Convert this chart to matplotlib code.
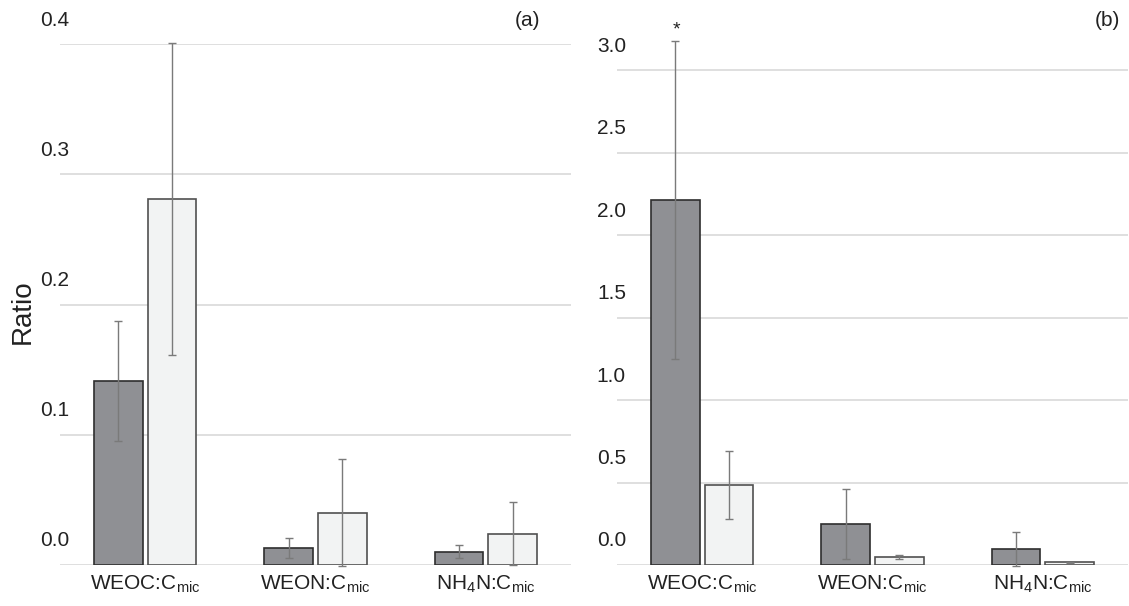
import numpy as np
import matplotlib.pyplot as plt

plt.rcParams['font.family'] = ['Liberation Sans', 'DejaVu Sans']
plt.rcParams['mathtext.fontset'] = 'custom'
plt.rcParams['mathtext.rm'] = 'Liberation Sans'
plt.rcParams['mathtext.it'] = 'Liberation Sans'

# ---------------------------------------------------------
# data
# ---------------------------------------------------------
categories = [r'WEOC:C$_{\mathrm{mic}}$', r'WEON:C$_{\mathrm{mic}}$', r'NH$_4$N:C$_{\mathrm{mic}}$']

# panel (a)
a_dark = [0.141, 0.013, 0.010]
a_dark_err = [0.046, 0.008, 0.005]
a_light = [0.281, 0.040, 0.024]
a_light_err = [0.120, 0.041, 0.024]
a_ticks = [0.0, 0.1, 0.2, 0.3, 0.4]

# panel (b)
b_dark = [2.212, 0.248, 0.097]
b_dark_err = [0.964, 0.210, 0.103]
b_light = [0.485, 0.048, 0.018]
b_light_err = [0.208, 0.010, 0.003]
b_ticks = [0.0, 0.5, 1.0, 1.5, 2.0, 2.5, 3.0]

dark_col = '#8f9094'
light_col = '#f2f3f3'
grid_col = '#d9d9d9'
err_col = '#7a7a7a'

W, H = 1129, 606
fig = plt.figure(figsize=(W / 100, H / 100), dpi=100)

bottom_px = 41
height_px = 521


def draw_panel(left_px, right_px, dark, dark_err, light, light_err, ticks, top_tick, top_y, letter, letter_x):
    ax = fig.add_axes([left_px / W, bottom_px / H, (right_px - left_px) / W, height_px / H])
    # highest gridline sits at top_y px from the image top
    ymax = top_tick * height_px / (565 - top_y)
    x = np.arange(len(categories))
    bw = 0.285
    off = bw / 2 + 0.015
    ax.bar(x - off, dark, bw, color=dark_col, edgecolor='#2e2e2e', linewidth=1.2, zorder=3)
    ax.bar(x + off, light, bw, color=light_col, edgecolor='#505050', linewidth=1.2, zorder=3)
    ax.errorbar(x - off, dark, yerr=dark_err, fmt='none', ecolor=err_col, elinewidth=1,
                capsize=3, capthick=1, zorder=4, clip_on=False)
    ax.errorbar(x + off, light, yerr=light_err, fmt='none', ecolor=err_col, elinewidth=1,
                capsize=3, capthick=1, zorder=4, clip_on=False)
    ax.set_xlim(-0.5, len(categories) - 0.5)
    ax.set_ylim(0, ymax)
    for t in ticks:
        ax.axhline(t, color=grid_col, linewidth=1.2, zorder=1)
        ax.annotate(f'{t:.1f}', xy=(0, t), xycoords=ax.get_yaxis_transform(),
                    xytext=(9, 24), textcoords='offset pixels', ha='right', va='center',
                    fontsize=15, color='#222222', annotation_clip=False)
    ax.set_yticks([])
    ax.set_xticks(x)
    ax.set_xticklabels(categories, fontsize=15, color='#222222')
    ax.tick_params(axis='x', length=0, pad=6)
    for s in ax.spines.values():
        s.set_visible(False)
    ax.patch.set_alpha(0)
    fig.text(letter_x / W, 1 - 20 / H, letter, ha='right', va='center',
             fontsize=15, color='#222222')
    return ax


ax_a = draw_panel(60, 571, a_dark, a_dark_err, a_light, a_light_err, a_ticks, 0.4, 44, '(a)', 540)
ax_b = draw_panel(617, 1128, b_dark, b_dark_err, b_light, b_light_err, b_ticks, 3.0, 70, '(b)', 1120)

# significance mark above the WEOC dark bar in (b)
ax_b.annotate('*', xy=(-0.15, b_dark[0] + b_dark_err[0]), xytext=(0, 2),
              textcoords='offset pixels', ha='center', va='bottom', fontsize=14,
              color='#222222', annotation_clip=False)

fig.text(23 / W, 1 - 312 / H, 'Ratio', rotation=90, ha='center', va='center',
         fontsize=20, color='#222222')

fig.savefig('out.png', dpi=100)
